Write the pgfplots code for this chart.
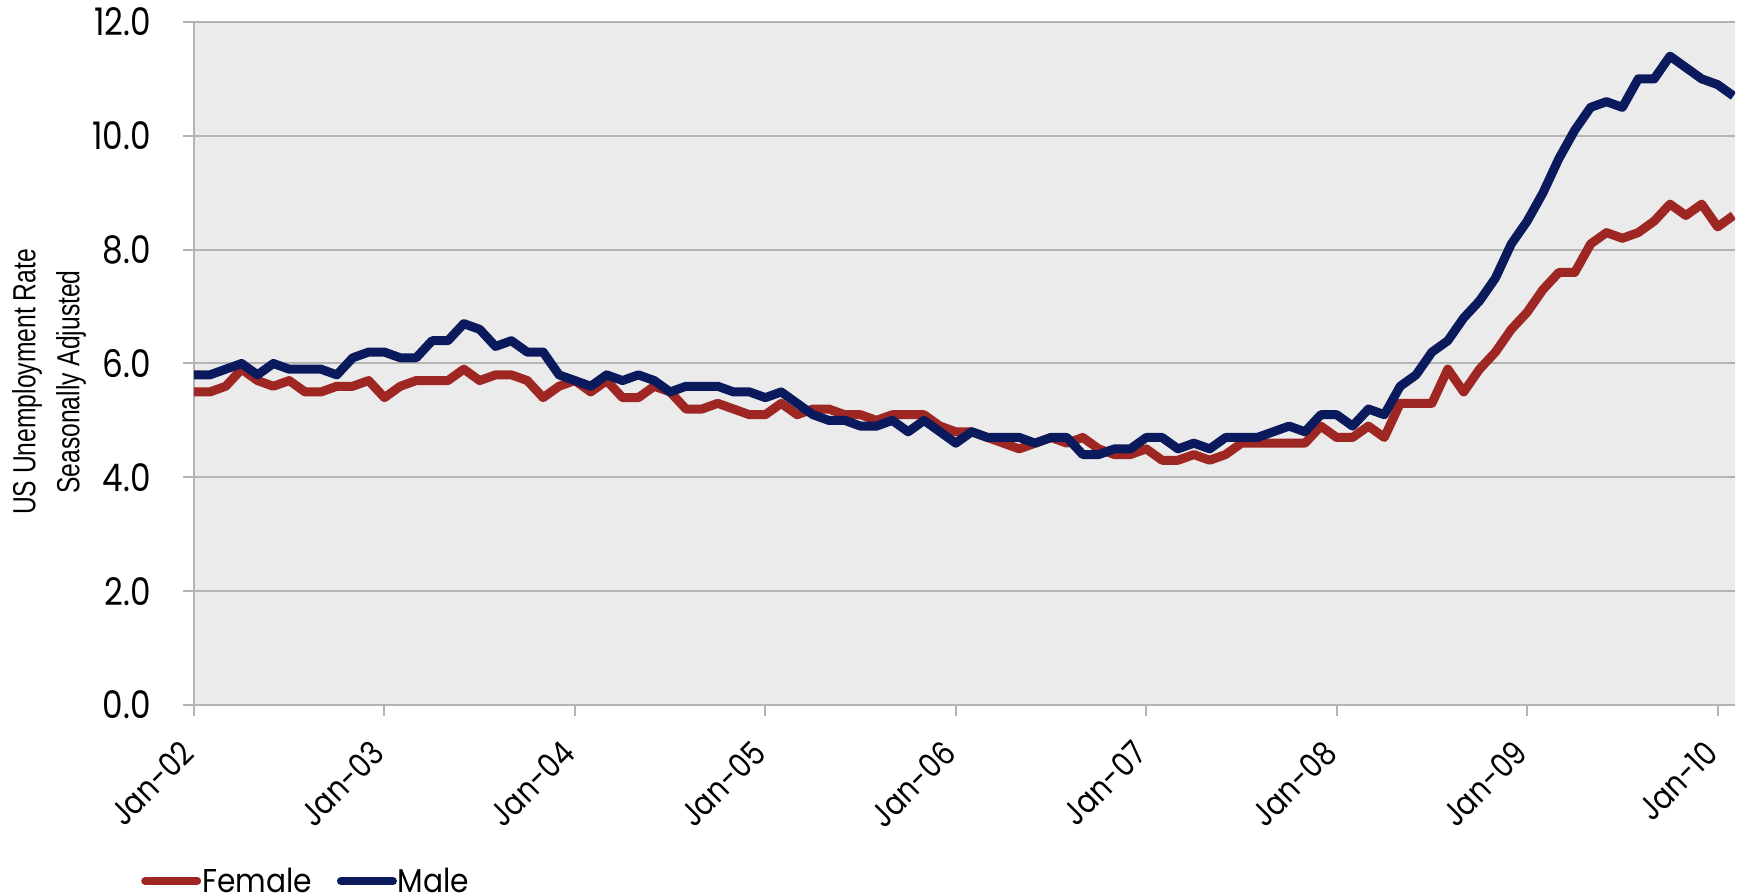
\documentclass[border=0pt]{standalone}
\usepackage{fontspec}
\setmainfont{Poppins}
\newfontfamily\narrowpop[FakeStretch=0.86]{Poppins}
\newfontfamily\legpop[FakeStretch=0.9]{Poppins}
\newfontfamily\condensed[FakeStretch=0.77]{Liberation Sans}
\usepackage{pgfplots}
\usepackage{pgfplotstable}
\pgfplotsset{compat=1.18}
\definecolor{femred}{HTML}{9E2623}
\definecolor{malenavy}{HTML}{0A1A5C}
\definecolor{plotbg}{HTML}{EBEBEB}
\definecolor{gridgray}{HTML}{B4B4B4}

\pgfplotstableread{
m female male
0 5.5 5.8
1 5.5 5.8
2 5.6 5.9
3 5.9 6.0
4 5.7 5.8
5 5.6 6.0
6 5.7 5.9
7 5.5 5.9
8 5.5 5.9
9 5.6 5.8
10 5.6 6.1
11 5.7 6.2
12 5.4 6.2
13 5.6 6.1
14 5.7 6.1
15 5.7 6.4
16 5.7 6.4
17 5.9 6.7
18 5.7 6.6
19 5.8 6.3
20 5.8 6.4
21 5.7 6.2
22 5.4 6.2
23 5.6 5.8
24 5.7 5.7
25 5.5 5.6
26 5.7 5.8
27 5.4 5.7
28 5.4 5.8
29 5.6 5.7
30 5.5 5.5
31 5.2 5.6
32 5.2 5.6
33 5.3 5.6
34 5.2 5.5
35 5.1 5.5
36 5.1 5.4
37 5.3 5.5
38 5.1 5.3
39 5.2 5.1
40 5.2 5.0
41 5.1 5.0
42 5.1 4.9
43 5.0 4.9
44 5.1 5.0
45 5.1 4.8
46 5.1 5.0
47 4.9 4.8
48 4.8 4.6
49 4.8 4.8
50 4.7 4.7
51 4.6 4.7
52 4.5 4.7
53 4.6 4.6
54 4.7 4.7
55 4.6 4.7
56 4.7 4.4
57 4.5 4.4
58 4.4 4.5
59 4.4 4.5
60 4.5 4.7
61 4.3 4.7
62 4.3 4.5
63 4.4 4.6
64 4.3 4.5
65 4.4 4.7
66 4.6 4.7
67 4.6 4.7
68 4.6 4.8
69 4.6 4.9
70 4.6 4.8
71 4.9 5.1
72 4.7 5.1
73 4.7 4.9
74 4.9 5.2
75 4.7 5.1
76 5.3 5.6
77 5.3 5.8
78 5.3 6.2
79 5.9 6.4
80 5.5 6.8
81 5.9 7.1
82 6.2 7.5
83 6.6 8.1
84 6.9 8.5
85 7.3 9.0
86 7.6 9.6
87 7.6 10.1
88 8.1 10.5
89 8.3 10.6
90 8.2 10.5
91 8.3 11.0
92 8.5 11.0
93 8.8 11.4
94 8.6 11.2
95 8.8 11.0
96 8.4 10.9
97 8.6 10.7
}\datatable

\begin{document}
\begin{tikzpicture}
\path[use as bounding box] (0,0) rectangle (1737pt,896pt);
\begin{axis}[
  at={(194pt,191pt)}, anchor=south west,
  scale only axis, width=1541pt, height=683pt,
  xmin=0, xmax=97.1, ymin=0, ymax=12,
  axis background/.style={fill=plotbg},
  axis x line*=bottom, axis y line*=left,
  axis line style={draw=gridgray, line width=2.5pt},
  ytick={0,2,...,12},
  xtick={0,12,...,96},
  xticklabels={Jan-02,Jan-03,Jan-04,Jan-05,Jan-06,Jan-07,Jan-08,Jan-09,Jan-10},
  ymajorgrids, grid style={draw=gridgray, line width=2pt},
  tick align=outside, major tick length=11pt,
  tick style={draw=gridgray, line width=2pt},
  /pgf/number format/assume math mode=true,
  yticklabel style={font=\narrowpop\fontsize{38}{44}\selectfont, /pgf/number format/fixed, /pgf/number format/fixed zerofill, /pgf/number format/precision=1, anchor=east, inner sep=0pt, xshift=-32pt},
  xticklabel style={font=\narrowpop\fontsize{33}{40}\selectfont, xshift=-6pt, yshift=-31pt, rotate=45, anchor=east, inner sep=0pt},
  ylabel={US Unemployment Rate\\[5pt]Seasonally Adjusted},
  ylabel style={at={(axis description cs:-0.094,0.4729)}, anchor=center, align=center, font=\condensed\fontsize{32}{39}\selectfont},
  legend style={at={(0,0)}, anchor=west, xshift=-53pt, yshift=-176pt, draw=none, fill=none, inner sep=0pt, legend columns=2, font=\legpop\fontsize{33}{40}\selectfont, nodes={inner sep=1pt}, /tikz/every even column/.append style={column sep=24pt}},
  legend image code/.code={\draw[#1, line width=8pt, line cap=round] (0pt,0pt) -- (52pt,0pt);},
  clip=true,
]
\addplot[femred, line width=9pt, line join=round] table[x=m, y=female] {\datatable};
\addplot[malenavy, line width=9pt, line join=round] table[x=m, y=male] {\datatable};
\legend{Female, Male}
\end{axis}
\end{tikzpicture}
\end{document}
